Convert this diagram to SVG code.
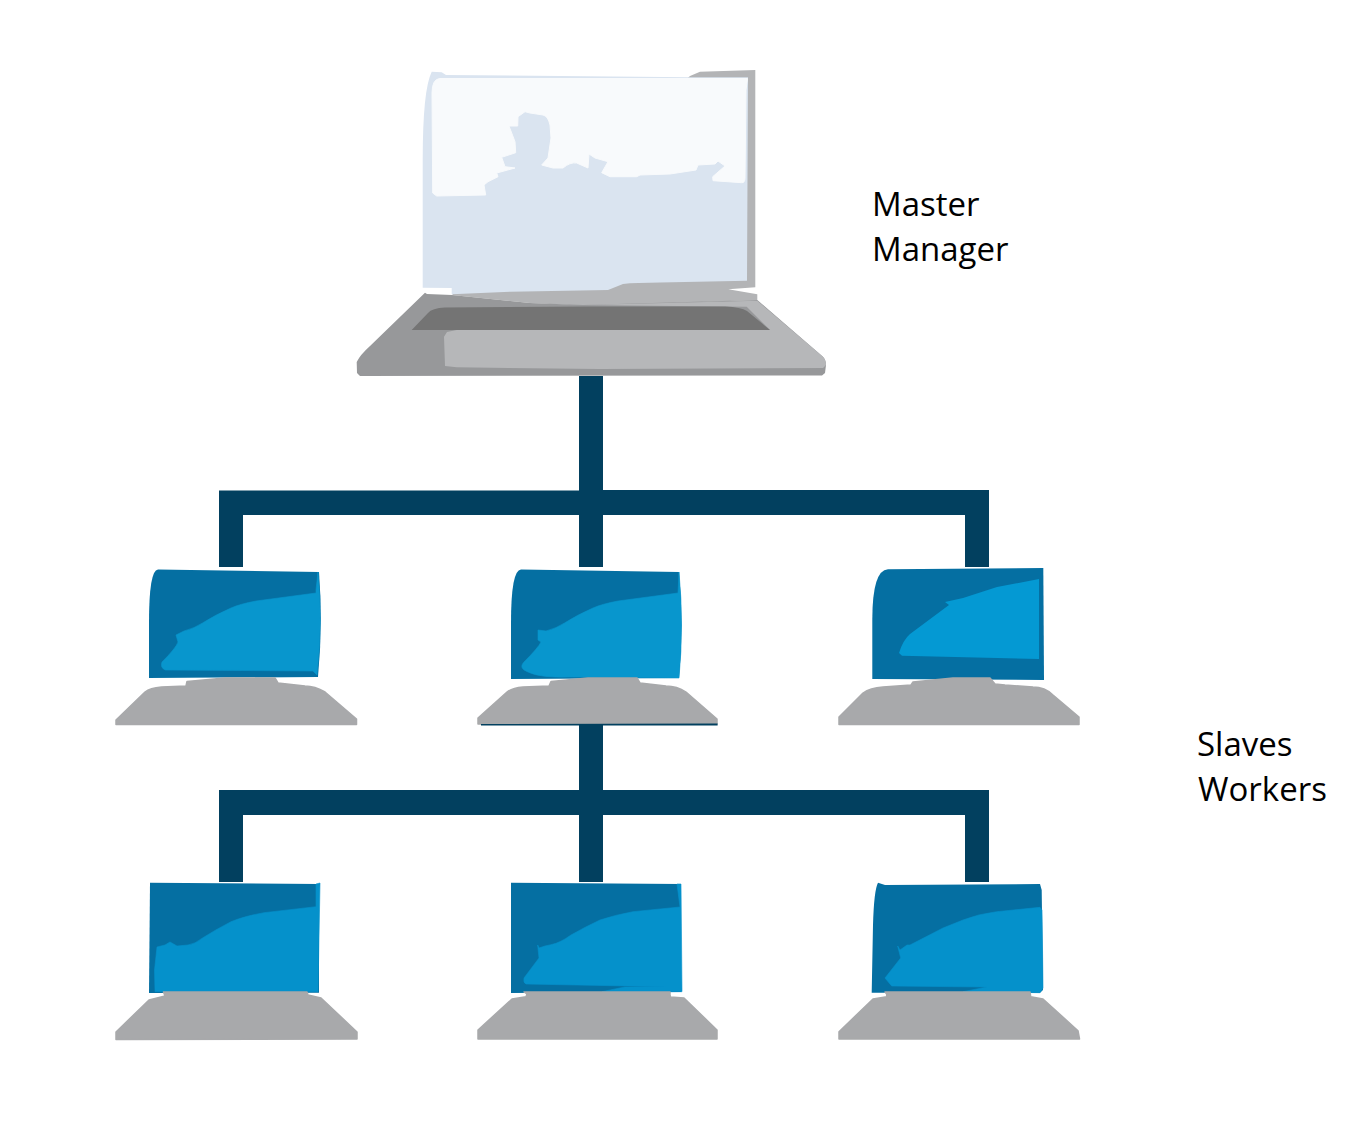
<svg xmlns="http://www.w3.org/2000/svg" width="1347" height="1125" viewBox="0 0 1347 1125">
<style>
.bus{fill:#02405f}
.scr{fill:#056fa2}
.lit{fill:#0896cd;stroke:#0896cd;stroke-width:.6;stroke-linejoin:round}
.lit2{fill:#0591cb;stroke:#0591cb;stroke-width:.6;stroke-linejoin:round}
.base{fill:#a8a9ab;stroke:#a8a9ab;stroke-width:1.5;stroke-linejoin:round}
.label{font-family:"Open Sans","Noto Sans","Liberation Sans",sans-serif;font-size:33px;fill:#000}
</style>
<rect width="1347" height="1125" fill="#fff"/>
<g id="connectors" class="bus">
<path d="M579 376H603V490H989V567H965V515H603V567H579V515H243V567H219V490.500H579Z"/>
<path d="M579 725H603V790H989V882H965V815H603V882H579V815H243V882H219V790H579Z"/>
</g>
<g id="master">
<path fill="#b3b4b6" d="M690 76L700 71.700L755.300 70V287.300L728.300 289.300L757.300 294.300V300L590 306L530 303L452 295Z"/>
<path fill="#dae4f0" d="M431.700 71.700L441.700 72.300L446 75L690 77.300H748L747 280.700L660 282.500Q635 282.500 623 284L608 290L510 291.700L451.700 294.300V288L422.700 287.700L422.700 160Q422.700 90 431.700 71.700Z"/>
<path fill="#f8fafc" stroke="#f8fafc" stroke-width="1" stroke-linejoin="round" d="M440 78.500H747.500L746 90L745 178Q745 183 741.700 182.700L713 180.700L712.700 176.700L725 166L718 161L715 164L698 165L696 170L670 174L640 175L636.700 176.700H610L601.700 172.700L608 161.700L595 158L589 154L588 168L576.700 163Q570 162 563 168H553L541.700 165L548 158L551 138L550 125Q548 116 543 115L530 113L525 111.700L518 116.700L517.700 126H509L515 141.700L515.700 152.700L501.700 157.300L505 166.700L515 168L496.700 173L498 176.700L488 181.700L484 185L485.700 195L436.700 196L432.700 193L432 93Q432 79 440 78.500Z"/>
<path fill="#97989a" d="M425 292.700L427 294L452 295L530 303L583 305L757.300 300L823 356.700Q826 360 826 365L825 373L822 375.500L360 376L357 373L356.700 362Q360 355 370 346Z"/>
<path fill="#b6b7b9" d="M456.700 330L770 330L746.700 306.700L583 305L757.300 300.700L823 356.700Q826 360 826 365L823 368L600 369L456.700 367.300L445 366L444 336.700L447 332Z"/>
<path fill="#747474" d="M411.700 330L428 313Q432 308 445 307.500L590 306.500H725Q741 307 747 311L770 330Z"/>
</g>
<g id="worker-1">
<path class="scr" d="M158 569.500L319 572Q323 625 318 677L149 678V623Q149 570 158 569.500Z"/>
<path class="lit" d="M316 593L256 601Q240 604 231 608Q215 615 202.500 623Q195 628 184 631L176 635L178 642Q176 648 162 662Q160 668 165.500 670L313 671L317 675Q323 625 318 572L316 590Z"/>
<path class="base" d="M116 720V724.500H356.500V719L325 692Q315 686 305 686L278 683L275 678H225L187 681.500L186 686L161.500 687Q150 688 145 692Z"/>
</g>
<g id="worker-2">
<path class="scr" d="M521 569.500L679 572Q684 625 679 678L511 679V623Q511 570 521 569.500Z"/>
<path class="lit" d="M678 593L618 601Q602 604 593 608Q577 615 564.500 623Q557 628 546 631L538 630L538 640L541 642Q538 648 524 662Q518 668 528 672Q540 678 570 677L679 678Q684 625 679 572Z"/>
<path class="base" d="M478 718V724H717V719L686 692Q677 686 666 686L640 683L637 678H588L551 681.500L549 686L523 687Q512 688 507 692Z"/>
<path class="bus" d="M481 724L717.600 723.500V725.500H481Z"/>
</g>
<g id="worker-3">
<path class="scr" d="M888 569.300L1043.300 568L1044 680L872.300 679V620Q872.300 570 888 569.300Z"/>
<path fill="#0499d3" d="M1039 579L997 587L963 598L945 602L949 605L910 634Q903 640 899 653L902 655.700L1039 659Z"/>
<path class="base" d="M839 717V724.500H1079V717L1053 695Q1045 687 1033 687L1005 685L995 684L990 678H953L913 682L911 685L883 687Q870 688 863 693Z"/>
</g>
<g id="worker-4">
<path class="scr" d="M150 882.700L319 884L319 992.700L149 993Z"/>
<path class="lit2" d="M316 906.700L264 912.700Q245 916 231 921.700Q215 930 202.500 938Q195 944 188 945L177 946L170 942L165 945L157 947L154.500 970L155 991.700H318L320 883L316 884Z"/>
<path class="base" d="M163.500 992H307L308 995L321 998L357 1032V1039L116 1039.500V1032L149 1000L165 996Z"/>
</g>
<g id="worker-5">
<path class="scr" d="M511 882.700L681 884V992L511 993Z"/>
<path class="lit2" d="M680 907L633 911.700Q615 915 600 920Q585 927 571 935Q560 943 551 944.700L545 946L539 948L537.700 945L539 958L524 978Q523 983 526 984L665.600 986.700L624.600 987L602 991.700H682L681 884L677 884Z"/>
<path class="base" d="M527 994L524 992H670V995L670.500 997L684 998L717 1030V1039H478V1030L512 999L526 996.700Z"/>
</g>
<g id="worker-6">
<path class="scr" d="M878 882.700L885 885L1040 884L1041.700 890L1043 990L1040 992.700H871.700L873 925Q874 890 878 882.700Z"/>
<path class="lit2" d="M1040 907.300L996.700 911.700Q978 914 963 920L943 928L910 945H907L900 950L897.700 946L900.700 958L885 978L891.700 986L987 987L963 991.700L1040 992.700L1043 988L1042 910Z"/>
<path class="base" d="M886.700 994L885 992H1030L1030.700 996.700L1043 999L1078 1030.700L1079.500 1039H839V1031.700L873 999L886.700 996.700Z"/>
</g>
<g id="label-master"><text class="label" x="872" y="215.500">Master</text><text class="label" x="872" y="260.500">Manager</text></g>
<g id="label-workers"><text class="label" x="1197" y="755.500">Slaves</text><text class="label" x="1198" y="800.500">Workers</text></g>
</svg>
